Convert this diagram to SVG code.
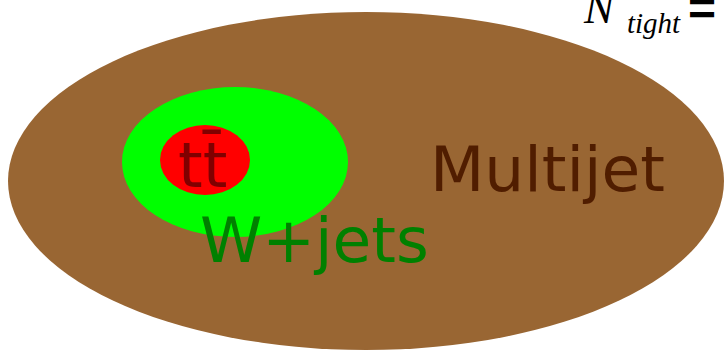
<svg xmlns="http://www.w3.org/2000/svg" width="724" height="350" viewBox="0 0 724 350">
  <style>
    .lbl { font-family: "DejaVu Sans", Verdana, sans-serif; font-size: 63px; }
    .math { font-family: "Liberation Serif", "Times New Roman", serif; font-style: italic; fill: #000; }
  </style>
  <rect width="724" height="350" fill="#ffffff"/>

  <!-- outer sample: multijet -->
  <g id="multijet">
    <ellipse cx="366" cy="181" rx="358" ry="169" fill="#996633"/>
    <text class="lbl" x="430" y="191" fill="#501d00">Multijet</text>
  </g>

  <!-- W+jets region -->
  <g id="wjets">
    <ellipse cx="235" cy="162" rx="113" ry="75" fill="#00ff00"/>
    <text class="lbl" x="200" y="262" fill="#008000">W+jets</text>
  </g>

  <!-- top pair region -->
  <g id="ttbar">
    <ellipse cx="205" cy="160" rx="45" ry="35" fill="#ff0000"/>
    <text class="lbl" x="178" y="187" fill="#800000">tt̄</text>
  </g>

  <!-- formula heading -->
  <g id="ntight">
    <text class="math" x="584" y="23" font-size="45">N</text>
    <text class="math" x="627" y="33" font-size="29">tight</text>
    <text x="688" y="25" font-family="Liberation Sans, Arial, sans-serif" font-weight="bold" font-size="48" fill="#000">=</text>
  </g>
</svg>
